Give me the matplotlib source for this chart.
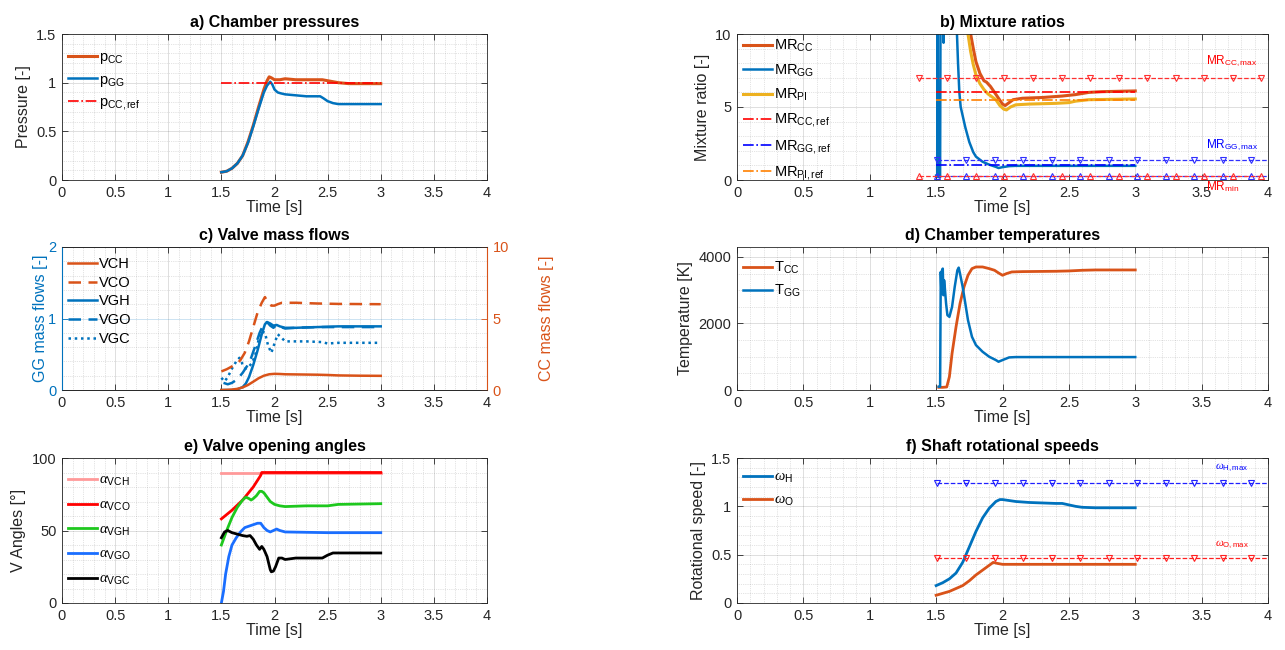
import matplotlib
matplotlib.use('Agg')
import matplotlib.pyplot as plt
import numpy as np
from matplotlib import font_manager
from matplotlib.ticker import AutoMinorLocator, FuncFormatter

names = {f.name for f in font_manager.fontManager.ttflist}
if 'Liberation Sans Narrow' in names:
    FONT = 'Liberation Sans Narrow'
    FS_TICK, FS_LAB, FS_TIT, FS_LEG, FS_NOTE = 12, 13, 13, 12, 10
else:
    FONT = 'Liberation Sans'
    FS_TICK, FS_LAB, FS_TIT, FS_LEG, FS_NOTE = 10.5, 11.5, 11.5, 10.5, 8.5

plt.rcParams['font.family'] = [FONT, 'DejaVu Sans']
plt.rcParams['mathtext.fontset'] = 'custom'
plt.rcParams['mathtext.rm'] = FONT
plt.rcParams['mathtext.it'] = 'Liberation Serif:italic'
plt.rcParams['mathtext.bf'] = FONT + ':bold'

BLUE = '#0072BD'
ORANGE = '#D95319'
YELLOW = '#EDB120'
AXC = '#262626'

# ---------------- data ----------------
# a) chamber pressures
t_pcc = [1.50, 1.55, 1.60, 1.65, 1.70, 1.75, 1.80, 1.85, 1.90, 1.93, 1.95, 1.97, 2.00, 2.05, 2.10,
         2.20, 2.30, 2.40, 2.45, 2.50, 2.55, 2.60, 2.70, 2.80, 3.00]
p_cc = [0.08, 0.09, 0.12, 0.17, 0.25, 0.39, 0.56, 0.75, 0.93, 1.02, 1.06, 1.05, 1.03, 1.03, 1.04,
        1.03, 1.03, 1.03, 1.03, 1.02, 1.01, 1.00, 0.99, 0.99, 0.99]
t_pgg = [1.50, 1.55, 1.60, 1.65, 1.70, 1.75, 1.80, 1.85, 1.90, 1.93, 1.96, 1.98, 2.00, 2.03, 2.06,
         2.10, 2.20, 2.30, 2.40, 2.43, 2.46, 2.50, 2.55, 2.60, 2.70, 3.00]
p_gg = [0.08, 0.09, 0.12, 0.17, 0.25, 0.38, 0.55, 0.73, 0.90, 0.97, 1.01, 0.98, 0.93, 0.90, 0.89,
        0.88, 0.87, 0.86, 0.86, 0.86, 0.84, 0.81, 0.79, 0.78, 0.78, 0.78]
t_ref = [1.5, 3.0]
p_cc_ref = [1.0, 1.0]

# b) mixture ratios
t_mrgg = [1.500, 1.508, 1.511, 1.514, 1.530, 1.534, 1.540, 1.553, 1.556, 1.559, 1.600, 1.640, 1.655,
          1.665, 1.675, 1.685, 1.70, 1.72, 1.75, 1.78, 1.80, 1.85, 1.90, 1.95, 1.97, 2.00, 2.05,
          2.10, 2.50, 3.00]
mr_gg = [0.3, 0.3, 15, 0.2, 0.2, 15, 15, 15, 9.4, 15, 15, 15, 10.5,
         8.0, 6.0, 5.0, 4.4, 3.6, 2.6, 1.9, 1.6, 1.25, 1.05, 0.9, 0.82, 0.88, 0.95,
         0.97, 0.97, 0.97]
t_mrcc = [1.74, 1.76, 1.78, 1.80, 1.83, 1.86, 1.88, 1.91, 1.94, 1.97, 2.00, 2.02, 2.05, 2.08, 2.15,
          2.30, 2.45, 2.55, 2.65, 2.75, 3.00]
mr_cc = [11, 10, 9.0, 8.1, 7.3, 6.8, 6.7, 6.4, 6.0, 5.6, 5.2, 5.1, 5.3, 5.5, 5.6,
         5.65, 5.75, 5.85, 6.0, 6.05, 6.1]
t_mrpi = [1.72, 1.74, 1.76, 1.78, 1.80, 1.83, 1.86, 1.89, 1.92, 1.95, 1.98, 2.01, 2.03, 2.06, 2.10,
          2.20, 2.40, 2.50, 2.55, 2.65, 3.00]
mr_pi = [11, 10, 8.8, 7.9, 7.2, 6.6, 6.2, 5.9, 5.7, 5.5, 5.1, 4.85, 4.8, 5.0, 5.15,
         5.2, 5.25, 5.3, 5.4, 5.5, 5.55]
mr_cc_ref = [6.0, 6.0]
mr_gg_ref = [1.0, 1.0]
mr_pi_ref = [5.5, 5.5]
t_lim_cc = [1.37, 1.585, 1.80, 2.015, 2.23, 2.445, 2.66, 2.875, 3.09, 3.305, 3.52, 3.735, 3.95]
t_lim_gg = [1.51, 1.725, 1.94, 2.155, 2.37, 2.585, 2.80, 3.015, 3.23, 3.445, 3.66, 3.875, 4.0]
mr_cc_max = 7.0
mr_gg_max = 1.4
mr_min = 0.3

# c) valve mass flows
t_vch = [1.50, 1.55, 1.60, 1.65, 1.70, 1.75, 1.80, 1.85, 1.90, 1.95, 2.00, 2.05, 2.10, 2.20, 2.40,
         2.50, 2.60, 2.80, 3.00]
m_vch = [0.0, 0.01, 0.03, 0.08, 0.18, 0.35, 0.58, 0.82, 1.00, 1.10, 1.13, 1.12, 1.10, 1.09, 1.07,
         1.05, 1.02, 1.00, 0.99]
t_vco = [1.50, 1.55, 1.60, 1.65, 1.68, 1.72, 1.76, 1.80, 1.84, 1.88, 1.91, 1.94, 1.97, 2.00, 2.03,
         2.07, 2.12, 2.20, 2.40, 2.60, 3.00]
m_vco = [1.3, 1.45, 1.65, 1.85, 2.1, 2.6, 3.4, 4.4, 5.4, 6.1, 6.5, 6.1, 5.9, 5.9, 6.0,
         6.1, 6.1, 6.1, 6.05, 6.02, 6.0]
t_vgh = [1.50, 1.55, 1.60, 1.65, 1.70, 1.73, 1.76, 1.80, 1.84, 1.88, 1.91, 1.93, 1.96, 1.99, 2.02,
         2.05, 2.10, 2.20, 2.40, 2.60, 3.00]
m_vgh = [0.0, 0.0, 0.0, 0.01, 0.04, 0.09, 0.18, 0.35, 0.55, 0.78, 0.92, 0.95, 0.93, 0.90, 0.91,
         0.89, 0.87, 0.87, 0.88, 0.89, 0.89]
t_vgo = [1.52, 1.56, 1.60, 1.65, 1.70, 1.74, 1.78, 1.82, 1.86, 1.90, 1.93, 1.96, 1.99, 2.02, 2.06,
         2.10, 2.20, 2.40, 2.60, 3.00]
m_vgo = [0.10, 0.08, 0.10, 0.15, 0.24, 0.33, 0.45, 0.62, 0.80, 0.93, 0.95, 0.90, 0.87, 0.91, 0.88,
         0.86, 0.87, 0.88, 0.88, 0.88]
t_vgc = [1.50, 1.53, 1.56, 1.60, 1.64, 1.67, 1.70, 1.73, 1.76, 1.79, 1.82, 1.85, 1.88, 1.91, 1.94,
         1.97, 2.00, 2.03, 2.06, 2.10, 2.20, 2.30, 2.45, 2.50, 2.60, 3.00]
m_vgc = [0.17, 0.12, 0.18, 0.30, 0.40, 0.45, 0.36, 0.30, 0.33, 0.38, 0.50, 0.70, 0.82, 0.80, 0.62,
         0.52, 0.65, 0.78, 0.74, 0.68, 0.68, 0.68, 0.67, 0.65, 0.66, 0.66]

# d) chamber temperatures
t_tcc = [1.52, 1.55, 1.58, 1.60, 1.62, 1.65, 1.68, 1.71, 1.74, 1.77, 1.80, 1.85, 1.90, 1.94, 1.97,
         2.00, 2.03, 2.07, 2.15, 2.40, 2.50, 2.60, 2.70, 3.00]
temp_cc = [80, 80, 90, 400, 1100, 1900, 2600, 3100, 3450, 3650, 3700, 3700, 3650, 3600, 3520,
           3450, 3500, 3550, 3560, 3570, 3580, 3600, 3610, 3610]
t_tgg = [1.52, 1.530, 1.535, 1.540, 1.545, 1.550, 1.555, 1.560, 1.565, 1.575, 1.585, 1.60, 1.62,
         1.64, 1.66, 1.67, 1.68, 1.70, 1.72, 1.74, 1.77, 1.80, 1.85, 1.90, 1.95, 1.97, 2.00, 2.05,
         2.10, 3.00]
temp_gg = [100, 100, 3550, 2900, 3600, 3650, 2850, 3300, 3100, 2600, 2250, 2200, 2500,
           3100, 3600, 3680, 3500, 3100, 2600, 2100, 1600, 1350, 1150, 1000, 900, 850, 900, 980,
           990, 990]

# e) valve opening angles
t_avch = [1.5, 3.0]
a_vch = [90, 90]
t_avco = [1.50, 1.60, 1.70, 1.80, 1.87, 1.88, 3.00]
a_vco = [58, 64, 71, 80, 88, 90, 90]
t_avgh = [1.50, 1.55, 1.60, 1.65, 1.70, 1.73, 1.76, 1.78, 1.80, 1.83, 1.86, 1.88, 1.90, 1.93, 1.96,
          2.00, 2.05, 2.10, 2.30, 2.50, 2.60, 3.00]
a_vgh = [40, 50, 59, 66, 71, 73, 72, 71, 72, 74, 77, 77, 76, 73, 70,
         68, 67, 66.5, 67, 67, 68, 68.5]
t_avgo = [1.50, 1.52, 1.54, 1.57, 1.60, 1.64, 1.68, 1.72, 1.76, 1.80, 1.84, 1.87, 1.90, 1.93, 1.96,
          1.99, 2.02, 2.05, 2.10, 2.50, 3.00]
a_vgo = [0, 8, 20, 32, 40, 45, 49, 52, 53, 54, 55, 55, 52, 50, 49,
         50, 51, 50, 49, 48.5, 48.5]
t_avgc = [1.50, 1.53, 1.56, 1.60, 1.65, 1.70, 1.74, 1.77, 1.80, 1.83, 1.86, 1.88, 1.90, 1.93, 1.96,
          1.97, 1.99, 2.01, 2.04, 2.07, 2.10, 2.20, 2.45, 2.50, 2.55, 3.00]
a_vgc = [45, 49, 50, 48.5, 47.5, 46.5, 46, 46.5, 44, 40, 37, 39, 37, 32, 23,
         21.5, 22, 25, 31, 31, 30, 31, 31, 33, 34.5, 34.5]

# f) shaft speeds
t_wh = [1.50, 1.55, 1.60, 1.65, 1.70, 1.75, 1.80, 1.85, 1.90, 1.95, 1.98, 2.00, 2.05, 2.10, 2.20,
        2.30, 2.40, 2.45, 2.50, 2.55, 2.60, 2.70, 3.00]
w_h = [0.18, 0.21, 0.25, 0.31, 0.42, 0.58, 0.74, 0.88, 0.98, 1.05, 1.07, 1.07, 1.06, 1.05, 1.04,
       1.035, 1.03, 1.03, 1.015, 1.0, 0.99, 0.985, 0.985]
t_wo = [1.50, 1.55, 1.60, 1.65, 1.70, 1.75, 1.80, 1.85, 1.90, 1.93, 1.96, 2.00, 2.05, 2.10, 3.00]
w_o = [0.08, 0.10, 0.12, 0.15, 0.18, 0.23, 0.29, 0.34, 0.39, 0.42, 0.41, 0.40, 0.40, 0.40, 0.40]
w_h_max = 1.24
w_o_max = 0.47

xticks = [0, 0.5, 1, 1.5, 2, 2.5, 3, 3.5, 4]

# ---------------- figure ----------------
W, H = 1285, 650
fig = plt.figure(figsize=(12.85, 6.5), dpi=100)


def box(l, t, r, b):
    return [l / W, 1 - b / H, (r - l) / W, (b - t) / H]


def fmt(v, pos):
    return '%g' % v


def style(ax, title, ylabel, yticks, ylim, ypad=4):
    ax.set_xlim(0, 4)
    ax.set_ylim(*ylim)
    ax.set_xticks(xticks)
    ax.set_yticks(yticks)
    ax.xaxis.set_major_formatter(FuncFormatter(fmt))
    ax.yaxis.set_major_formatter(FuncFormatter(fmt))
    ax.xaxis.set_minor_locator(AutoMinorLocator())
    ax.yaxis.set_minor_locator(AutoMinorLocator())
    ax.tick_params(which='major', direction='in', length=4, width=0.6, labelsize=FS_TICK,
                   colors=AXC, top=True, right=True, pad=4)
    ax.tick_params(which='minor', length=0)
    ax.grid(True, which='major', color=AXC, alpha=0.15, lw=0.7)
    ax.grid(True, which='minor', color=AXC, alpha=0.25, lw=0.5, ls=':')
    for s in ax.spines.values():
        s.set_color(AXC)
        s.set_linewidth(0.6)
    ax.set_title(title, fontsize=FS_TIT, fontweight='bold', color='black', pad=5)
    ax.set_xlabel('Time [s]', fontsize=FS_LAB, color=AXC, labelpad=0)
    if ylabel:
        ax.set_ylabel(ylabel, fontsize=FS_LAB, color=AXC, labelpad=ypad)
    ax.set_axisbelow(True)


def leg(ax, handles, labels, spacing, top_px, left_px=6):
    bb = ax.get_position()
    hpx = bb.height * H
    wpx = bb.width * W
    ax.legend(handles, labels, loc='upper left', frameon=False, fontsize=FS_LEG,
              handlelength=2.0, handletextpad=0.15, labelspacing=spacing,
              borderaxespad=0, borderpad=0,
              bbox_to_anchor=(left_px / wpx, 1 - top_px / hpx))


L1, R1 = 62, 487
L2, R2 = 737, 1268
T1, B1 = 34, 180
T2, B2 = 247, 390
T3, B3 = 458, 603

# a)
ax = fig.add_axes(box(L1, T1, R1, B1))
ax.plot(t_pcc, p_cc, color=ORANGE, lw=2.2, label=r'p$_{\mathrm{CC}}$')
ax.plot(t_pgg, p_gg, color=BLUE, lw=1.8, label=r'p$_{\mathrm{GG}}$')
ax.plot(t_ref, p_cc_ref, color='red', lw=1.2, ls='-.', label=r'p$_{\mathrm{CC,ref}}$')
style(ax, 'a) Chamber pressures', 'Pressure [-]', [0, 0.5, 1, 1.5], (0, 1.5))
h, l = ax.get_legend_handles_labels()
leg(ax, h, l, 0.45, 16)

# b)
ax = fig.add_axes(box(L2, T1, R2, B1))
ax.plot(t_mrcc, mr_cc, color=ORANGE, lw=2.2, label=r'MR$_{\mathrm{CC}}$')
ax.plot(t_mrgg, mr_gg, color=BLUE, lw=1.8, label=r'MR$_{\mathrm{GG}}$')
ax.plot(t_mrpi, mr_pi, color=YELLOW, lw=2.2, label=r'MR$_{\mathrm{PI}}$')
ax.plot(t_ref, mr_cc_ref, color='red', lw=1.2, ls='-.', label=r'MR$_{\mathrm{CC,ref}}$')
ax.plot(t_ref, mr_gg_ref, color='blue', lw=1.2, ls='-.', label=r'MR$_{\mathrm{GG,ref}}$')
ax.plot(t_ref, mr_pi_ref, color='#FF8000', lw=1.2, ls='-.', label=r'MR$_{\mathrm{PI,ref}}$')
h, l = ax.get_legend_handles_labels()
ax.plot(t_lim_cc, [mr_cc_max] * len(t_lim_cc), color='#FF3030', lw=0.9, ls='--', marker='v',
        ms=5, mfc='none', mew=0.8)
ax.plot(t_lim_gg, [mr_gg_max] * len(t_lim_gg), color='#3030FF', lw=0.9, ls='--', marker='v',
        ms=5, mfc='none', mew=0.8, markevery=list(range(len(t_lim_gg) - 1)))
ax.plot(t_lim_gg, [mr_min] * len(t_lim_gg), color='#3030FF', lw=0.9, ls='--', marker='^',
        ms=5, mfc='none', mew=0.8, markevery=list(range(len(t_lim_gg) - 1)))
ax.plot(t_lim_cc, [mr_min] * len(t_lim_cc), color='#FF3030', lw=0.9, ls='--', marker='^',
        ms=5, mfc='none', mew=0.8)
ax.text(3.53, 7.6, r'MR$_{\mathrm{CC,max}}$', color='red', fontsize=FS_NOTE, va='bottom')
ax.text(3.53, 1.85, r'MR$_{\mathrm{GG,max}}$', color='blue', fontsize=FS_NOTE, va='bottom')
ax.text(3.53, 0.05, r'MR$_{\mathrm{min}}$', color='red', fontsize=FS_NOTE, va='top', clip_on=False)
style(ax, 'b) Mixture ratios', 'Mixture ratio [-]', [0, 5, 10], (0, 10))
leg(ax, h, l, 0.58, 4)

# c)
ax = fig.add_axes(box(L1, T2, R1, B2))
ax2 = ax.twinx()
l1, = ax2.plot(t_vch, m_vch, color=ORANGE, lw=1.8, label='VCH')
l2, = ax2.plot(t_vco, m_vco, color=ORANGE, lw=1.8, ls=(0, (5, 3)), label='VCO')
l3, = ax.plot(t_vgh, m_vgh, color=BLUE, lw=1.8, label='VGH')
l4, = ax.plot(t_vgo, m_vgo, color=BLUE, lw=1.8, ls=(0, (5, 3)), label='VGO')
l5, = ax.plot(t_vgc, m_vgc, color=BLUE, lw=1.8, ls=(0, (1, 1.5)), label='VGC')
style(ax, 'c) Valve mass flows', 'GG mass flows [-]', [0, 1, 2], (0, 2), ypad=0)
ax.tick_params(axis='y', colors=BLUE, right=False)
ax.yaxis.label.set_color(BLUE)
ax.grid(True, which='major', axis='y', color=BLUE, alpha=0.2, lw=0.7)
ax.spines['left'].set_color(BLUE)
ax2.set_ylim(0, 10)
ax2.set_yticks([0, 5, 10])
ax2.yaxis.set_major_formatter(FuncFormatter(fmt))
ax2.tick_params(axis='y', direction='in', length=4, width=0.6, labelsize=FS_TICK, colors=ORANGE, pad=4)
ax2.set_ylabel('CC mass flows [-]', fontsize=FS_LAB, color=ORANGE, labelpad=22)
ax2.spines['right'].set_color(ORANGE)
ax2.spines['left'].set_color(BLUE)
for s in ['top', 'bottom']:
    ax2.spines[s].set_color(AXC)
    ax2.spines[s].set_linewidth(0.6)
leg(ax2, [l1, l2, l3, l4, l5], ['VCH', 'VCO', 'VGH', 'VGO', 'VGC'], 0.32, 10)

# d)
ax = fig.add_axes(box(L2, T2, R2, B2))
ax.plot(t_tcc, temp_cc, color=ORANGE, lw=2.0, label=r'T$_{\mathrm{CC}}$')
ax.plot(t_tgg, temp_gg, color=BLUE, lw=1.8, label=r'T$_{\mathrm{GG}}$')
style(ax, 'd) Chamber temperatures', 'Temperature [K]', [0, 2000, 4000], (0, 4300))
h, l = ax.get_legend_handles_labels()
leg(ax, h, l, 0.5, 13)

# e)
ax = fig.add_axes(box(L1, T3, R1, B3))
ax.plot(t_avch, a_vch, color='#FF9999', lw=2.0, label=r'$\alpha$$_{\mathrm{VCH}}$')
ax.plot(t_avco, a_vco, color='#FF0000', lw=2.0, label=r'$\alpha$$_{\mathrm{VCO}}$')
ax.plot(t_avgh, a_vgh, color='#1EC81E', lw=2.0, label=r'$\alpha$$_{\mathrm{VGH}}$')
ax.plot(t_avgo, a_vgo, color='#1A6EFF', lw=2.0, label=r'$\alpha$$_{\mathrm{VGO}}$')
ax.plot(t_avgc, a_vgc, color='black', lw=2.0, label=r'$\alpha$$_{\mathrm{VGC}}$')
style(ax, 'e) Valve opening angles', 'V Angles [°]', [0, 50, 100], (0, 100))
h, l = ax.get_legend_handles_labels()
leg(ax, h, l, 0.66, 15)

# f)
ax = fig.add_axes(box(L2, T3, R2, B3))
ax.plot(t_wh, w_h, color=BLUE, lw=2.0, label=r'$\omega$$_{\mathrm{H}}$')
ax.plot(t_wo, w_o, color=ORANGE, lw=2.0, label=r'$\omega$$_{\mathrm{O}}$')
h, l = ax.get_legend_handles_labels()
ax.plot(t_lim_gg, [w_h_max] * len(t_lim_gg), color='#2020FF', lw=0.9, ls='--', marker='v',
        ms=5, mfc='none', mew=0.8, markevery=list(range(len(t_lim_gg) - 1)))
ax.plot(t_lim_gg, [w_o_max] * len(t_lim_gg), color='#FF2020', lw=0.9, ls='--', marker='v',
        ms=5, mfc='none', mew=0.8, markevery=list(range(len(t_lim_gg) - 1)))
ax.text(3.6, 1.33, r'$\omega$$_{\mathrm{H,max}}$', color='blue', fontsize=FS_NOTE - 0.5, va='bottom')
ax.text(3.6, 0.54, r'$\omega$$_{\mathrm{O,max}}$', color='red', fontsize=FS_NOTE - 0.5, va='bottom')
style(ax, 'f) Shaft rotational speeds', 'Rotational speed [-]', [0, 0.5, 1, 1.5], (0, 1.5))
leg(ax, h, l, 0.54, 12)

fig.savefig('out.png', dpi=100, facecolor='white')
